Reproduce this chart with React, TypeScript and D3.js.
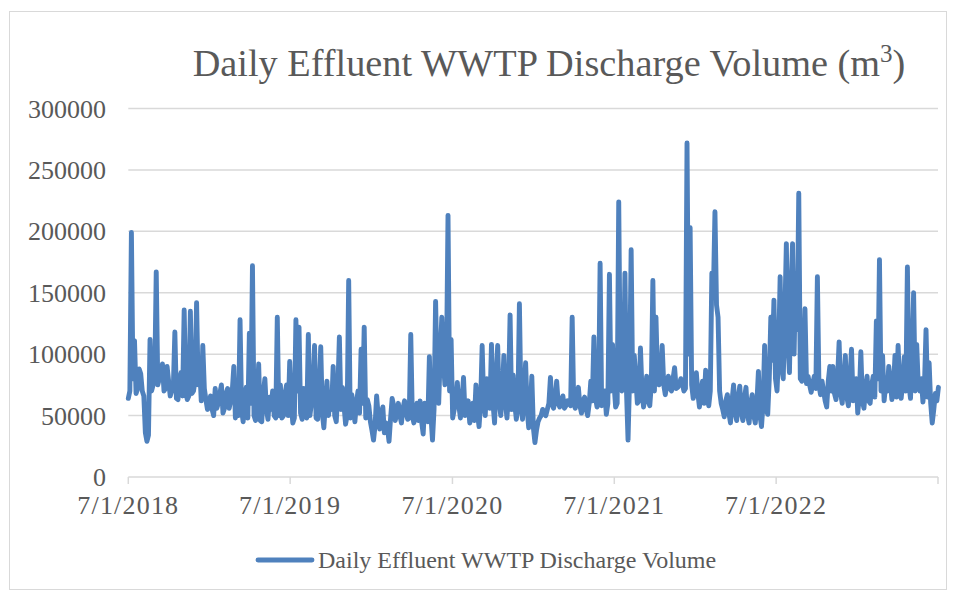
import React from "react";
import * as d3 from "d3";

const chartTitle = "Daily Effluent WWTP Discharge Volume (m";
const legendLabel = "Daily Effluent WWTP Discharge Volume";
const yTicks = [0, 50000, 100000, 150000, 200000, 250000, 300000];
const xTickDates = ["2018-07-01", "2019-07-01", "2020-07-01", "2021-07-01", "2022-07-01", "2023-07-01"];
const xTickLabels = ["7/1/2018", "7/1/2019", "7/1/2020", "7/1/2021", "7/1/2022", ""];
const seriesStart = "2018-07-01";
// readings at the start of each week (m3)
const weekStartVolume = [
  64000, 199000, 111000, 72000, 84000, 66000, 29000, 112000, 75000, 167000,
  80000, 92000, 72000, 78000, 70000, 118000, 63000, 85000, 136000, 63000,
  135000, 70000, 142000, 90000, 107000, 63000, 58000, 55000, 72000, 60000,
  75000, 56000, 72000, 62000, 90000, 60000, 128000, 45000, 73000, 117000,
  172000, 46000, 92000, 45000, 80000, 47000, 55000, 50000, 130000, 75000,
  50000, 75000, 94000, 44000, 128000, 122000, 47000, 55000, 116000, 60000,
  107000, 47000, 106000, 40000, 78000, 63000, 90000, 45000, 114000, 73000,
  43000, 160000, 67000, 45000, 70000, 104000, 122000, 63000, 45000, 30000,
  66000, 39000, 57000, 44000, 29000, 64000, 46000, 60000, 44000, 62000,
  47000, 116000, 44000, 60000, 62000, 35000, 55000, 98000, 30000, 143000,
  60000, 130000, 75000, 213000, 112000, 55000, 77000, 48000, 81000, 55000,
  44000, 60000, 75000, 41000, 107000, 50000, 75000, 108000, 44000, 107000,
  50000, 99000, 48000, 132000, 83000, 47000, 141000, 47000, 93000, 40000,
  82000, 28000, 45000, 50000, 52000, 55000, 81000, 56000, 78000, 57000,
  66000, 58000, 60000, 130000, 56000, 73000, 52000, 65000, 50000, 78000,
  114000, 57000, 174000, 60000, 51000, 165000, 108000, 57000, 224000, 70000,
  166000, 30000, 185000, 99000, 60000, 105000, 57000, 82000, 58000, 160000,
  130000, 75000, 107000, 67000, 82000, 70000, 89000, 73000, 80000, 70000,
  272000, 203000, 64000, 85000, 57000, 78000, 87000, 58000, 166000, 216000,
  130000, 60000, 49000, 67000, 44000, 75000, 46000, 74000, 46000, 73000,
  44000, 67000, 44000, 86000, 41000, 107000, 51000, 130000, 144000, 70000,
  163000, 80000, 190000, 85000, 190000, 166000, 231000, 78000, 137000, 82000,
  69000, 82000, 163000, 67000, 70000, 57000, 90000, 90000, 63000, 110000,
  60000, 99000, 58000, 104000, 72000, 52000, 102000, 56000, 82000, 60000,
  82000, 127000, 177000, 99000, 75000, 90000, 63000, 99000, 107000, 64000,
  98000, 171000, 64000, 150000, 108000, 70000, 61000, 120000, 93000, 44000,
  68000, 73000,
];
// readings in the middle of each week (m3)
const midWeekVolume = [
  70000, 80000, 68000, 88000, 70000, 36000, 34000, 70000, 78000, 75000,
  85000, 70000, 90000, 66000, 72000, 64000, 80000, 66000, 70000, 66000,
  68000, 78000, 75000, 62000, 72000, 55000, 66000, 50000, 56000, 68000,
  52000, 68000, 56000, 70000, 48000, 50000, 55000, 62000, 48000, 60000,
  50000, 60000, 46000, 68000, 55000, 65000, 70000, 48000, 50000, 48000,
  68000, 50000, 60000, 48000, 70000, 52000, 72000, 48000, 50000, 72000,
  48000, 70000, 52000, 60000, 50000, 55000, 50000, 70000, 55000, 58000,
  50000, 48000, 58000, 60000, 52000, 60000, 48000, 58000, 38000, 42000,
  50000, 52000, 36000, 40000, 48000, 58000, 52000, 50000, 56000, 52000,
  48000, 50000, 52000, 46000, 45000, 60000, 45000, 50000, 55000, 80000,
  100000, 95000, 90000, 70000, 48000, 60000, 58000, 62000, 50000, 62000,
  50000, 46000, 52000, 60000, 60000, 80000, 56000, 60000, 80000, 60000,
  70000, 60000, 70000, 55000, 60000, 56000, 60000, 70000, 55000, 55000,
  40000, 38000, 48000, 55000, 50000, 60000, 60000, 62000, 60000, 62000,
  56000, 62000, 58000, 60000, 62000, 58000, 62000, 55000, 60000, 62000,
  65000, 60000, 58000, 70000, 60000, 70000, 75000, 60000, 80000, 75000,
  70000, 80000, 70000, 80000, 62000, 70000, 65000, 62000, 75000, 70000,
  80000, 82000, 75000, 75000, 72000, 80000, 72000, 75000, 76000, 72000,
  100000, 75000, 70000, 68000, 70000, 60000, 65000, 70000, 150000, 140000,
  70000, 55000, 62000, 52000, 62000, 52000, 65000, 52000, 64000, 50000,
  60000, 50000, 60000, 50000, 60000, 55000, 80000, 95000, 80000, 100000,
  90000, 130000, 110000, 150000, 100000, 120000, 80000, 90000, 76000, 75000,
  76000, 72000, 75000, 78000, 62000, 78000, 70000, 68000, 80000, 68000,
  78000, 65000, 80000, 62000, 80000, 65000, 62000, 72000, 62000, 75000,
  65000, 80000, 70000, 62000, 70000, 78000, 72000, 65000, 75000, 78000,
  70000, 75000, 95000, 70000, 75000, 80000, 75000, 65000, 60000, 55000,
  62000,
];

const W = 956;
const H = 592;
const plot = { left: 128.3, right: 938, top: 108.5, bottom: 477 };
const textColor = "#595959";
const gridColor = "#d9d9d9";
const lineColor = "#4f81bd";
const font = "'Liberation Serif', 'Times New Roman', serif";

type Pt = { date: Date; value: number };

export default function App() {
  const start = new Date(seriesStart + "T00:00:00Z");
  const data: Pt[] = [];
  weekStartVolume.forEach((v, i) => {
    data.push({ date: d3.utcHour.offset(start, i * 168), value: v });
    if (i < midWeekVolume.length) {
      data.push({ date: d3.utcHour.offset(start, i * 168 + 84), value: midWeekVolume[i] });
    }
  });
  const x = d3
    .scaleUtc()
    .domain([new Date(xTickDates[0] + "T00:00:00Z"), new Date(xTickDates[xTickDates.length - 1] + "T00:00:00Z")])
    .range([plot.left, plot.right]);
  const y = d3.scaleLinear().domain([0, 300000]).range([plot.bottom, plot.top]);
  const line = d3
    .line<Pt>()
    .x((d) => x(d.date))
    .y((d) => y(d.value));

  return (
    <svg width={W} height={H} style={{ position: "absolute", left: 0, top: 0, background: "#fff" }} fontFamily={font}>
      <rect x={9.5} y={11.5} width={937} height={578} fill="#fff" stroke={gridColor} strokeWidth={1} />
      <text x={549} y={76} fontSize={38.3} fill={textColor} textAnchor="middle">
        {chartTitle}
        <tspan fontSize={25} dy={-14}>3</tspan>
        <tspan dy={14}>)</tspan>
      </text>
      {yTicks.map((t) =>
        t === 0 ? null : (
          <line key={t} x1={plot.left} x2={plot.right} y1={y(t)} y2={y(t)} stroke={gridColor} strokeWidth={1.5} />
        )
      )}
      {yTicks.map((t) => (
        <text key={"l" + t} x={106} y={y(t)} dy="0.35em" fontSize={26} fill={textColor} textAnchor="end">
          {t}
        </text>
      ))}
      <line x1={plot.left} x2={plot.right} y1={plot.bottom} y2={plot.bottom} stroke={gridColor} strokeWidth={1.5} />
      {xTickDates.map((d, i) => {
        const xx = x(new Date(d + "T00:00:00Z"));
        return (
          <g key={d}>
            <line x1={xx} x2={xx} y1={plot.bottom} y2={plot.bottom + 7} stroke={gridColor} strokeWidth={1.5} />
            <text x={xx} y={514} fontSize={26} fill={textColor} textAnchor="middle" letterSpacing={1.2}>
              {xTickLabels[i]}
            </text>
          </g>
        );
      })}
      <path d={line(data) || ""} fill="none" stroke={lineColor} strokeWidth={4.9} strokeLinejoin="round" strokeLinecap="round" />
      <line x1={258} x2={312} y1={560} y2={560} stroke={lineColor} strokeWidth={4.9} strokeLinecap="round" />
      <text x={318} y={568} fontSize={24} fill={textColor}>
        {legendLabel}
      </text>
    </svg>
  );
}
